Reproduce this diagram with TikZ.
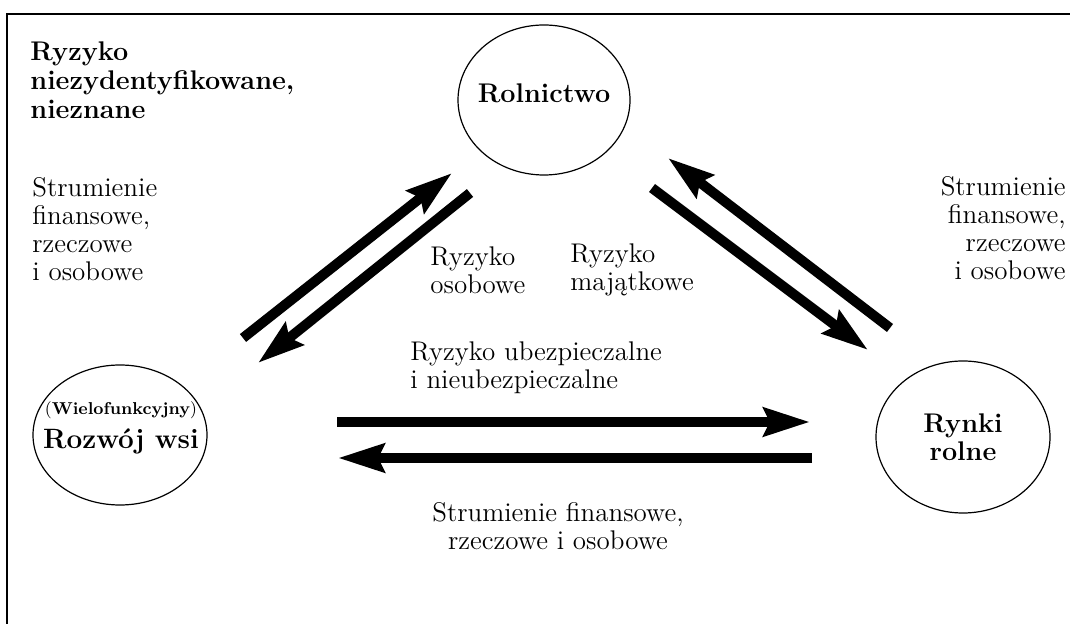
\documentclass[tikz,border=0pt]{standalone}
\usepackage{tikz}
\usetikzlibrary{arrows.meta, shapes.geometric}

\begin{document}
\begin{tikzpicture}[x=0.5pt, y=-0.5pt, font=\fontsize{13.5}{14}\selectfont,
    sektor/.style={ellipse, draw, line width=0.6pt, inner sep=0pt},
    nazwa/.style={inner sep=0pt, align=center, font=\bfseries\fontsize{13.5}{14}\selectfont},
    opis/.style={inner sep=0pt, align=left, anchor=west},
    strumien/.style={line width=5pt, -{Stealth[length=23pt, width=14pt, inset=3pt]}}]
    \useasboundingbox (0,0) rectangle (1070,624);
    \draw[line width=1.3pt] (7,624) -- (7,14) -- (1070,14);

    % trzy sektory
    \node[sektor, minimum width=86pt, minimum height=75pt] (rol) at (544,100) {};
    \node[sektor, minimum width=87pt, minimum height=70pt] (roz) at (120,435) {};
    \node[sektor, minimum width=87pt, minimum height=76pt] (ryn) at (963,437) {};
    \node[nazwa] (rolT) at (544,93) {Rolnictwo};
    \node[nazwa] (rozT) at (121,428) {{\mdseries\fontsize{8.6}{9}\selectfont(\textbf{Wielofunkcyjny})}\\[3pt]{\fontsize{14}{15}\selectfont Rozw\'oj wsi}};
    \node[nazwa] (rynT) at (963,437) {Rynki\\rolne};

    % opisy
    \node[opis, font=\bfseries\fontsize{13.5}{14.5}\selectfont] (nieznane) at (30,80) {Ryzyko\\niezydentyfikowane,\\nieznane};
    \node[opis] (strL) at (32,229) {Strumienie\\finansowe,\\rzeczowe\\i osobowe};
    \node[opis, align=right, anchor=east] (strP) at (1066,228) {Strumienie\\finansowe,\\rzeczowe\\i osobowe};
    \node[opis] (osob) at (430,270) {Ryzyko\\osobowe};
    \node[opis] (maj) at (570,270) {Ryzyko\\maj\k{a}tkowe};
    \node[opis] (ubez) at (410,368) {Ryzyko ubezpieczalne\\i nieubezpieczalne};
    \node[opis, align=center, anchor=center] (strD) at (558,526) {Strumienie finansowe,\\rzeczowe i osobowe};

    % konce strzalek
    \coordinate (a1) at (243,338); \coordinate (b1) at (452,173);
    \coordinate (a2) at (470,193); \coordinate (b2) at (258,363);
    \coordinate (a3) at (890,328); \coordinate (b3) at (668,158);
    \coordinate (a4) at (652,188); \coordinate (b4) at (868,350);
    \coordinate (a5) at (337,422); \coordinate (b5) at (810,422);
    \coordinate (a6) at (812,458); \coordinate (b6) at (338,458);

    \draw[strumien] (a1) -- (b1);
    \draw[strumien] (a2) -- (b2);
    \draw[strumien] (a3) -- (b3);
    \draw[strumien] (a4) -- (b4);
    \draw[strumien] (a5) -- (b5);
    \draw[strumien] (a6) -- (b6);
\end{tikzpicture}
\end{document}
